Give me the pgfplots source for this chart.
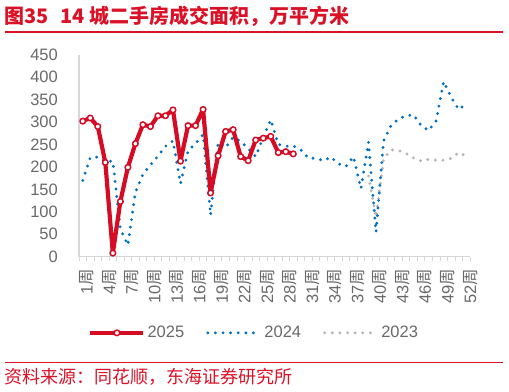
\documentclass[border=0pt]{standalone}
\usepackage{pgfplots}
\pgfplotsset{compat=1.18}
\usepackage{fontspec}
\setmainfont{Liberation Sans}
\newfontfamily\cjk{Noto Sans CJK SC}
\definecolor{titlered}{RGB}{218,18,40}
\definecolor{linered}{RGB}{214,12,36}
\definecolor{lineblue}{RGB}{0,112,192}
\definecolor{linegray}{RGB}{180,180,180}
\definecolor{tickgray}{RGB}{105,105,105}
\definecolor{axisgray}{RGB}{214,214,214}
\newcommand\zhou{{\cjk 周}}

\pgfplotstableread{
w v
1 302
2 309
3 290
4 210
5 8
6 123
7 199
8 252
9 294
10 290
11 314
12 314
13 327
14 213
15 292
16 292
17 328
18 142
19 225
20 279
21 283
22 223
23 214
24 260
25 264
26 268
27 232
28 234
29 229
}\datatwentyfive

\pgfplotstableread{
w v
1 170
2 221
3 222
4 212
5 213
6 62
7 26
8 143
9 184
10 204
11 224
12 246
13 258
14 163
15 236
16 252
17 272
18 93
19 254
20 243
21 266
22 257
23 241
24 223
25 266
26 305
27 250
28 246
29 247
30 238
31 220
32 219
33 214
34 222
35 207
36 201
37 223
38 152
39 255
40 55
41 258
42 292
43 307
44 314
45 316
46 292
47 281
48 303
49 390
50 355
51 328
52 341
}\datatwentyfour

\pgfplotstableread{
w v
39 180
40 88
41 218
42 238
43 237
44 230
45 220
46 213
47 217
48 215
49 215
50 219
51 232
52 224
}\datatwentythree

\begin{document}
\begin{tikzpicture}
\path[use as bounding box] (0,0) rectangle (509bp,-392bp);
\node[anchor=west, text=titlered, font=\cjk\bfseries\fontsize{20bp}{20bp}\selectfont, inner sep=0pt] at (4bp,-16.5bp) {图35\hspace{0.6em}14 城二手房成交面积，万平方米};
\draw[titlered, line width=1.5bp] (5bp,-32bp) -- (503bp,-32bp);
\draw[titlered, line width=1.5bp] (5bp,-362.5bp) -- (503bp,-362.5bp);
\node[anchor=west, text=titlered, font=\cjk\fontsize{18bp}{18bp}\selectfont, inner sep=0pt] at (4bp,-377bp) {资料来源：同花顺，东海证券研究所};
\begin{axis}[
  at={(79bp,-256.7bp)}, anchor=south west,
  scale only axis, width=391bp, height=202bp,
  xmin=0.5, xmax=52.5, ymin=0, ymax=450,
  axis x line*=bottom, axis y line*=left,
  axis line style={draw=axisgray, line width=1.2bp, -},
  xtick={1,4,7,10,13,16,19,22,25,28,31,34,37,40,43,46,49,52},
  xticklabels={1\zhou,4\zhou,7\zhou,10\zhou,13\zhou,16\zhou,19\zhou,22\zhou,25\zhou,28\zhou,31\zhou,34\zhou,37\zhou,40\zhou,43\zhou,46\zhou,49\zhou,52\zhou},
  minor xtick={0.5,1.5,...,52.5},
  ytick={0,50,...,450},
  major tick length=0pt, minor tick length=4bp,
  tick align=outside,
  minor tick style={draw=axisgray, line width=0.8bp},
  tick label style={font=\fontsize{16.5bp}{16.5bp}\selectfont, text=tickgray},
  /pgf/number format/assume math mode=true,
  yticklabel style={inner sep=0pt},
  yticklabel shift=21bp,
  xticklabel style={inner sep=0pt, xshift=4bp, rotate=90, anchor=east},
  xticklabel shift=12bp,
  clip=false,
  legend style={at={(0.448,-0.377)}, anchor=center, draw=none, fill=none,
    legend columns=3, font=\fontsize{16.5bp}{16.5bp}\selectfont, text=tickgray,
    /tikz/every even column/.append style={column sep=20bp}},
  legend image code/.code={\draw[mark repeat=2,mark phase=2,#1] plot coordinates {(0bp,0bp) (26.5bp,0bp) (53bp,0bp)};},
  dotblue/.style={lineblue, line width=3.2bp, line cap=round, dash pattern=on 0pt off 7.6bp},
  dotgray/.style={linegray, line width=3.2bp, line cap=round, dash pattern=on 0pt off 7.6bp},
]
\addplot[dotgray, forget plot] table[x=w,y=v] {\datatwentythree};
\addplot[dotblue, forget plot] table[x=w,y=v] {\datatwentyfour};
\addplot[linered, line width=4.2bp, line join=round, mark=*, mark size=2.8bp,
  mark options={fill=white, draw=linered, line width=1.5bp, solid}] table[x=w,y=v] {\datatwentyfive};
\addlegendentry{2025}
\addlegendimage{dotblue}
\addlegendentry{2024}
\addlegendimage{dotgray}
\addlegendentry{2023}
\end{axis}
\end{tikzpicture}
\end{document}
